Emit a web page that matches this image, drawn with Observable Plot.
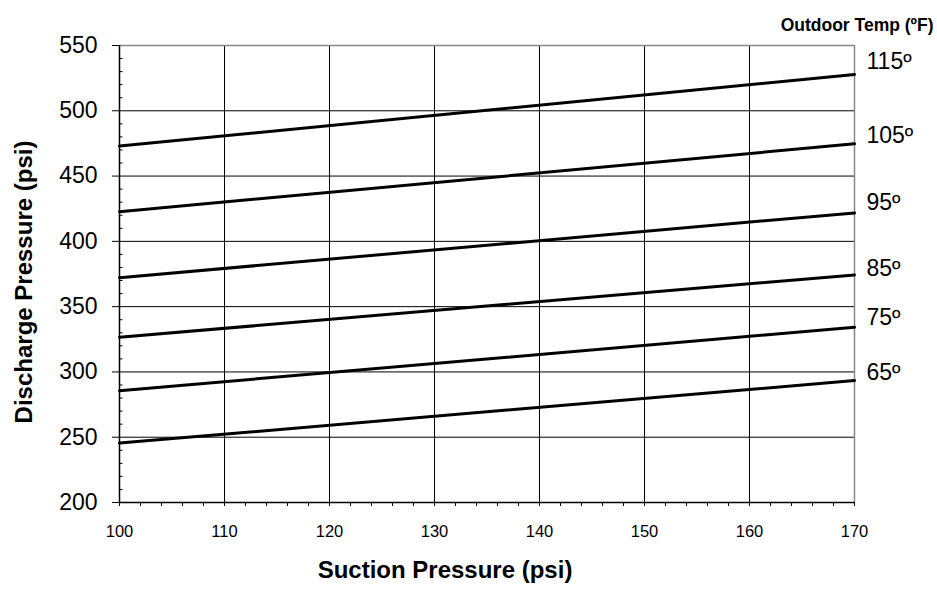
<!DOCTYPE html>
<html>
<head>
<meta charset="utf-8">
<script src="https://cdn.jsdelivr.net/npm/d3@7"></script>
<script src="https://cdn.jsdelivr.net/npm/@observablehq/plot@0.6"></script>
<style>
  html, body { margin: 0; padding: 0; background: #fff; }
  #chart svg { font-family: "Liberation Sans", Arial, sans-serif; color: #000; }
</style>
</head>
<body>
<div id="chart"></div>
<script>
// ---- data ----
const outdoorTemps = [65, 75, 85, 95, 105, 115];
const tempLabels = ["65º", "75º", "85º", "95º", "105º", "115º"];
const suctionRange = [100, 170];
const dischargeAt100 = [245.5, 285.6, 326.6, 372.2, 422.7, 473.0];
const dischargeAt170 = [293.4, 334.2, 374.3, 421.8, 474.7, 527.8];
const labelY = [299.4, 341.7, 379.0, 430.0, 481.1, 537.9];
const xTicks = [100, 110, 120, 130, 140, 150, 160, 170];
const xMinorTicks = d3.range(100, 171, 2);
const yTicks = [200, 250, 300, 350, 400, 450, 500, 550];
const yMinorTicks = d3.range(200, 551, 10).filter(v => v % 50 !== 0);
const yGrid = [250, 300, 350, 400, 450, 500];
const xGrid = [110, 120, 130, 140, 150, 160];

const lines = [];
outdoorTemps.forEach((t, i) => {
  lines.push({temp: t, suction: suctionRange[0], discharge: dischargeAt100[i]});
  lines.push({temp: t, suction: suctionRange[1], discharge: dischargeAt170[i]});
});
const labels = outdoorTemps.map((t, i) => ({temp: t, label: tempLabels[i], x: suctionRange[1], y: labelY[i]}));

const chart = Plot.plot({
  width: 937,
  height: 591,
  marginLeft: 119,
  marginRight: 83,
  marginTop: 45,
  marginBottom: 89,
  x: {domain: [100, 170]},
  y: {domain: [200, 550]},
  marks: [
    Plot.gridX(xGrid, {stroke: "#000", strokeOpacity: 1, strokeWidth: 1}),
    Plot.gridY(yGrid, {stroke: "#000", strokeOpacity: 1, strokeWidth: 1}),
    Plot.ruleY([550], {stroke: "#888", strokeWidth: 1.5}),
    Plot.ruleX([170], {stroke: "#888", strokeWidth: 1.5}),
    Plot.ruleX([100], {stroke: "#000", strokeWidth: 1.5}),
    Plot.ruleY([200], {stroke: "#000", strokeWidth: 1.5}),
    // y axis: major ticks outward with labels
    Plot.axisY(yTicks, {tickSize: 7, tickPadding: 15, fontSize: 23, label: null, stroke: "#000", fill: "#000"}),
    // y axis minor ticks inside
    Plot.axisY(yMinorTicks, {tickSize: 3.5, dx: 3.5, tickFormat: () => "", label: null, stroke: "#000"}),
    // x axis ticks
    Plot.axisX(xMinorTicks, {tickSize: 4, tickPadding: 19, fontSize: 16.5, label: null, stroke: "#000", fill: "#000",
      tickFormat: d => d % 10 === 0 ? String(d) : ""}),
    Plot.line(lines, {x: "suction", y: "discharge", z: "temp", stroke: "#000", strokeWidth: 3}),
    Plot.text(labels, {x: "x", y: "y", text: "label", textAnchor: "start", dx: 12, fontSize: 23, fill: "#000"}),
    Plot.text(["Outdoor Temp (ºF)"], {frameAnchor: "top-right", text: d => d, textAnchor: "end", dx: 79, dy: -27, fontSize: 17.5, fontWeight: "bold", fill: "#000"}),
    Plot.text(["Discharge Pressure (psi)"], {frameAnchor: "left", text: d => d, textAnchor: "middle", rotate: -90, dx: -95, dy: 8, fontSize: 24, fontWeight: "bold", fill: "#000"}),
    Plot.text(["Suction Pressure (psi)"], {frameAnchor: "bottom", text: d => d, textAnchor: "middle", dy: 75, dx: -42, fontSize: 24, fontWeight: "bold", fill: "#000"})
  ]
});
document.getElementById("chart").appendChild(chart);
</script>
</body>
</html>
